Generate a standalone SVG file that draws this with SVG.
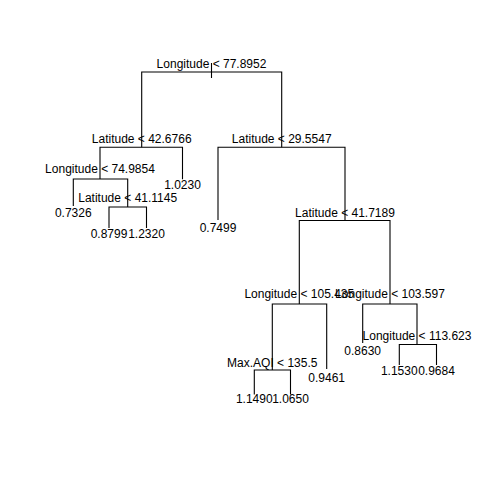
<svg xmlns="http://www.w3.org/2000/svg" width="480" height="480" viewBox="0 0 480 480">
<style>
text{font-family:"Liberation Sans",Arial,sans-serif;font-size:12px;fill:#000;text-anchor:middle}
.c path{fill:none;stroke:#000;stroke-width:1.1}
</style>
<rect width="480" height="480" fill="#fff"/>
<g class="c" id="connectors">
<path d="M211.5,63V78"/>
<path d="M141.7,147.3V72H281.7V147.3"/>
<path d="M100,179V147.3H182.5V179.3"/>
<path d="M218,220V147.3H345V220.5"/>
<path d="M73.3,206V179H127.7V207"/>
<path d="M109,228V207H146.5V228"/>
<path d="M299.3,304V220.5H390V304"/>
<path d="M272.3,370V304H326.7V369"/>
<path d="M254.3,394.5V370H290.5V394.5"/>
<path d="M362.7,343V304H417V344.5"/>
<path d="M399.3,365V344.5H436.5V365"/>
</g>
<g id="n1"><text x="211.5" y="68">Longitude &lt; 77.8952</text></g>
<g id="n2"><text x="141.7" y="143">Latitude &lt; 42.6766</text></g>
<g id="n3"><text x="281.7" y="143">Latitude &lt; 29.5547</text></g>
<g id="n4"><text x="100" y="173">Longitude &lt; 74.9854</text></g>
<g id="n5"><text x="182.5" y="188.5">1.0230</text></g>
<g id="n8"><text x="127.7" y="201.7">Latitude &lt; 41.1145</text></g>
<g id="n9"><text x="73.3" y="217">0.7326</text></g>
<g id="n16"><text x="109" y="238">0.8799</text></g>
<g id="n17"><text x="146.5" y="238">1.2320</text></g>
<g id="n6"><text x="218" y="231.5">0.7499</text></g>
<g id="n7"><text x="345" y="216.5">Latitude &lt; 41.7189</text></g>
<g id="n14"><text x="299.3" y="298">Longitude &lt; 105.435</text></g>
<g id="n15"><text x="390" y="298">Longitude &lt; 103.597</text></g>
<g id="n28"><text x="272.3" y="366.5">Max.AQI &lt; 135.5</text></g>
<g id="n29"><text x="326.7" y="381.5">0.9461</text></g>
<g id="n56"><text x="254.3" y="403">1.1490</text></g>
<g id="n57"><text x="290.5" y="403">1.0650</text></g>
<g id="n30"><text x="362.7" y="354.5">0.8630</text></g>
<g id="n31"><text x="417" y="340">Longitude &lt; 113.623</text></g>
<g id="n62"><text x="399.3" y="375">1.1530</text></g>
<g id="n63"><text x="436.5" y="375">0.9684</text></g>
</svg>
